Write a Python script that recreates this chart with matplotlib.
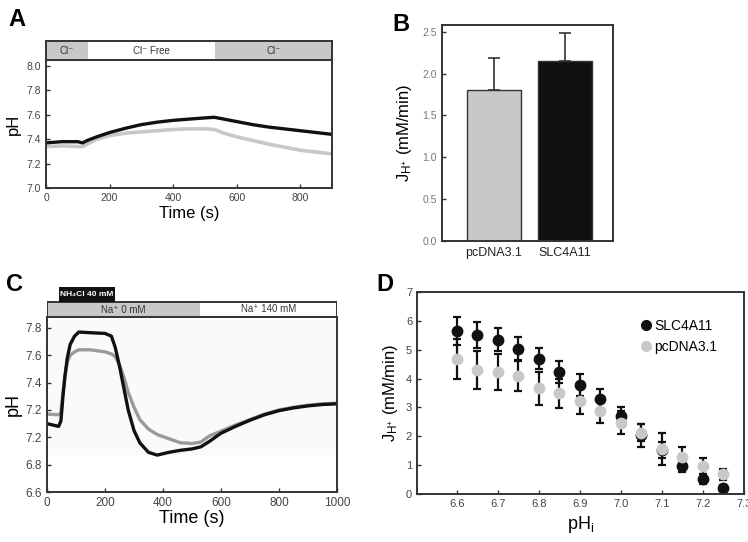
import numpy as np
import matplotlib
matplotlib.use("Agg")
import matplotlib.pyplot as plt
from matplotlib.patches import Rectangle
from matplotlib.lines import Line2D

plt.rcParams['font.family'] = ['Liberation Sans', 'DejaVu Sans']
plt.rcParams['mathtext.fontset'] = 'custom'
plt.rcParams['mathtext.rm'] = 'Liberation Sans'
plt.rcParams['mathtext.it'] = 'Liberation Sans:italic'
plt.rcParams['mathtext.bf'] = 'Liberation Sans:bold'

#---------------------------------------- data ----------------------------------------#

# panel A : Cl- removal traces
a_time = [0, 50, 100, 115, 130, 160, 200, 250, 300, 350, 400, 450, 500, 530, 560, 600, 650, 700, 750, 800, 850, 900]
a_slc = [7.37, 7.38, 7.38, 7.37, 7.39, 7.42, 7.455, 7.49, 7.52, 7.54, 7.555, 7.565, 7.575, 7.58, 7.565, 7.545, 7.52, 7.50, 7.485, 7.47, 7.455, 7.44]
a_pc = [7.34, 7.345, 7.34, 7.34, 7.36, 7.40, 7.43, 7.45, 7.46, 7.47, 7.48, 7.485, 7.485, 7.48, 7.45, 7.42, 7.39, 7.36, 7.335, 7.31, 7.295, 7.28]
a_header = [("Cl⁻", 0, 132, "#c8c8c8"), ("Cl⁻ Free", 132, 532, "white"), ("Cl⁻", 532, 900, "#c8c8c8")]

# panel B : bars
b_labels = ["pcDNA3.1", "SLC4A11"]
b_values = [1.80, 2.15]
b_err = [0.39, 0.33]

# panel C : NH4Cl prepulse traces
c_time = [0, 40, 48, 55, 62, 70, 80, 95, 110, 150, 200, 222, 235, 250, 265, 280, 300, 320, 350, 380,
          420, 460, 500, 530, 560, 600, 650, 700, 750, 800, 850, 900, 950, 1000]
c_slc = [7.10, 7.08, 7.12, 7.30, 7.45, 7.58, 7.68, 7.74, 7.77, 7.765, 7.76, 7.74, 7.66, 7.52, 7.36, 7.20, 7.05, 6.96, 6.89, 6.87,
         6.89, 6.905, 6.915, 6.93, 6.97, 7.03, 7.08, 7.125, 7.165, 7.195, 7.215, 7.23, 7.24, 7.245]
c_pc = [7.17, 7.165, 7.18, 7.33, 7.45, 7.55, 7.60, 7.625, 7.64, 7.64, 7.625, 7.61, 7.59, 7.53, 7.44, 7.33, 7.22, 7.13, 7.06, 7.02,
        6.99, 6.96, 6.955, 6.965, 7.01, 7.045, 7.09, 7.13, 7.17, 7.20, 7.22, 7.235, 7.245, 7.25]
c_yticks = [6.6, 6.8, 7.0, 7.2, 7.4, 7.6, 7.8]
c_yticklabels = ["6.6", "6.8", "7.2", "7.2", "7.4", "7.6", "7.8"]

# panel D : flux vs pHi
d_ph = [6.6, 6.65, 6.7, 6.75, 6.8, 6.85, 6.9, 6.95, 7.0, 7.05, 7.1, 7.15, 7.2, 7.25]
d_slc = [5.65, 5.51, 5.34, 5.04, 4.69, 4.24, 3.78, 3.28, 2.70, 2.03, 1.52, 0.98, 0.51, 0.22]
d_slc_err = [0.47, 0.44, 0.40, 0.39, 0.37, 0.38, 0.39, 0.36, 0.30, 0.40, 0.27, 0.21, 0.17, 0.10]
d_pc = [4.67, 4.29, 4.23, 4.10, 3.66, 3.49, 3.22, 2.89, 2.47, 2.12, 1.55, 1.29, 0.98, 0.68]
d_pc_err = [0.70, 0.65, 0.62, 0.52, 0.57, 0.50, 0.46, 0.42, 0.40, 0.30, 0.55, 0.35, 0.28, 0.19]

black = "#111111"
grey_light = "#c8c8c8"
grey_mid = "#9a9a9a"
spine_c = "#333333"

W, H = 748, 542
fig = plt.figure(figsize=(W / 100, H / 100), dpi=100)

def box(l, t, r, b):
    return [l / W, 1 - b / H, (r - l) / W, (b - t) / H]

def style(ax, size=7.5):
    for s in ax.spines.values():
        s.set_linewidth(1.4)
        s.set_color(spine_c)
    ax.tick_params(direction='in', length=3, width=1, labelsize=size, colors=spine_c, labelcolor="#444444")

#---------------------------------------- A ----------------------------------------#
axA = fig.add_axes(box(46, 60, 332, 188))
axA.plot(a_time, a_pc, color=grey_light, lw=2.6)
axA.plot(a_time, a_slc, color=black, lw=2.4)
axA.set_xlim(0, 900)
axA.set_ylim(7.0, 8.05)
axA.set_yticks([7.0, 7.2, 7.4, 7.6, 7.8, 8.0])
axA.set_xticks([0, 200, 400, 600, 800])
axA.set_yticklabels(["7.0", "7.2", "7.4", "7.6", "7.8", "8.0"])
style(axA)
axA.set_xlabel("Time (s)", fontsize=12, labelpad=2)
axA.set_ylabel("pH", fontsize=12, labelpad=4)

hA = fig.add_axes(box(46, 41, 332, 60))
for lab, x0, x1, col in a_header:
    hA.add_patch(Rectangle((x0, 0), x1 - x0, 1, facecolor=col, edgecolor='none'))
    hA.text((x0 + x1) / 2, 0.5, lab, ha='center', va='center', fontsize=7, color="#333333")
hA.set_xlim(0, 900)
hA.set_ylim(0, 1)
hA.set_xticks([])
hA.set_yticks([])
for s in hA.spines.values():
    s.set_linewidth(1.4)
    s.set_color(spine_c)

fig.text(8 / W, 1 - 26 / H, "A", fontsize=17, fontweight='bold')

#---------------------------------------- B ----------------------------------------#
axB = fig.add_axes(box(442, 25, 613, 241))
xb = np.arange(len(b_values))
axB.bar(xb, b_values, width=0.76, color=[grey_light, black], edgecolor=spine_c, linewidth=1)
axB.errorbar(xb, b_values, yerr=[[0, 0], b_err], fmt='none', ecolor=spine_c, capsize=4, elinewidth=1.2, capthick=1.2)
axB.set_xlim(-0.732, 1.676)
axB.set_ylim(0, 2.58)
axB.set_yticks([0, 0.5, 1.0, 1.5, 2.0, 2.5])
axB.set_yticklabels(["0.0", "0.5", "1.0", "1.5", "2.0", "2.5"])
axB.set_xticks(xb)
axB.set_xticklabels(b_labels)
style(axB)
axB.tick_params(axis='x', length=0, labelsize=9, labelcolor="#222222", pad=4)
axB.tick_params(axis='y', labelcolor="#777777")
axB.set_ylabel(r"J$_{\mathrm{H^{+}}}$ (mM/min)", fontsize=12, labelpad=6)

fig.text(392 / W, 1 - 31 / H, "B", fontsize=17, fontweight='bold')

#---------------------------------------- C ----------------------------------------#
axC = fig.add_axes(box(47, 317, 337, 492))
axC.axhspan(6.87, 7.86, color="#fafafa", lw=0, zorder=0)
axC.plot(c_time, c_pc, color=grey_mid, lw=2.4)
axC.plot(c_time, c_slc, color=black, lw=2.4)
axC.set_xlim(0, 1000)
axC.set_ylim(6.6, 7.88)
axC.set_yticks(c_yticks)
axC.set_yticklabels(c_yticklabels)
axC.set_xticks([0, 200, 400, 600, 800, 1000])
style(axC, 8.5)
axC.set_xlabel("Time (s)", fontsize=13, labelpad=1)
axC.set_ylabel("pH", fontsize=13, labelpad=3)

hC = fig.add_axes(box(47, 287, 337, 317))
hC.set_xlim(0, 1000)
hC.set_ylim(0, 2)
hC.axis('off')
hC.add_patch(Rectangle((0, 0), 528, 1, facecolor=grey_light, edgecolor='none'))
hC.add_patch(Rectangle((0, 0), 1000, 1, facecolor='none', edgecolor=spine_c, lw=1.4))
hC.text(264, 0.45, "Na⁺ 0 mM", ha='center', va='center', fontsize=7, color="#333333")
hC.text(764, 0.55, "Na⁺ 140 mM", ha='center', va='center', fontsize=7, color="#333333")
hC.add_patch(Rectangle((41, 1), 193, 1, facecolor=black, edgecolor='none'))
hC.text(137, 1.5, "NH₄Cl 40 mM", ha='center', va='center', fontsize=6, color='white', fontweight='bold')

fig.text(6 / W, 1 - 291 / H, "C", fontsize=17, fontweight='bold')

#---------------------------------------- D ----------------------------------------#
axD = fig.add_axes(box(417, 292, 744, 494))
axD.errorbar(d_ph, d_slc, yerr=d_slc_err, fmt='o', color=black, ecolor=black, ms=7.5,
             capsize=3, elinewidth=1.6, capthick=1.6)
axD.errorbar(d_ph, d_pc, yerr=d_pc_err, fmt='o', color=grey_light, mec=grey_light, ecolor=black, ms=7.5,
             capsize=3, elinewidth=1.6, capthick=1.6)
axD.set_xlim(6.503, 7.3)
axD.set_ylim(0, 7)
axD.set_xticks([6.6, 6.7, 6.8, 6.9, 7.0, 7.1, 7.2, 7.3])
axD.set_xticklabels(["6.6", "6.7", "6.8", "6.9", "7.0", "7.1", "7.2", "7.3"])
axD.set_yticks(range(8))
style(axD, 8)
axD.set_xlabel(r"pH$_{\mathrm{i}}$", fontsize=13, labelpad=4)
axD.set_ylabel(r"J$_{\mathrm{H^{+}}}$ (mM/min)", fontsize=12, labelpad=4)
handles = [Line2D([], [], marker='o', ls='none', color=black, ms=7),
           Line2D([], [], marker='o', ls='none', color=grey_light, ms=7)]
axD.legend(handles, ["SLC4A11", "pcDNA3.1"], loc='upper left', bbox_to_anchor=(0.64, 0.93),
           frameon=False, fontsize=10, handletextpad=0.1, handlelength=1.0, labelspacing=0.5)

fig.text(376 / W, 1 - 291 / H, "D", fontsize=17, fontweight='bold')

fig.savefig("out.png", dpi=100)
